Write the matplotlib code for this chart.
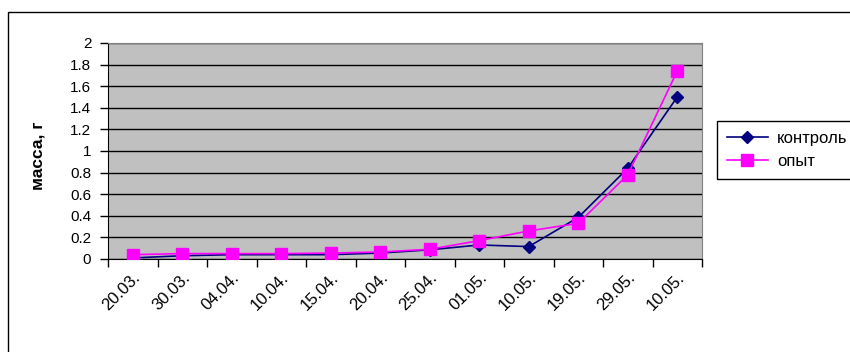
import matplotlib
matplotlib.use("Agg")
import matplotlib.pyplot as plt
from matplotlib.patches import Rectangle

plt.rcParams['font.family'] = ['Liberation Sans', 'DejaVu Sans']

# dates of weighing (category axis)
dates = ["20.03.", "30.03.", "04.04.", "10.04.", "15.04.", "20.04.",
         "25.04.", "01.05.", "10.05.", "19.05.", "29.05.", "10.05."]
# mass, g
kontrol = [0.01, 0.03, 0.04, 0.04, 0.04, 0.055, 0.085, 0.13, 0.115, 0.385, 0.84, 1.50]
opyt = [0.04, 0.05, 0.05, 0.05, 0.055, 0.065, 0.09, 0.17, 0.26, 0.33, 0.78, 1.74]
yticks = [0, 0.2, 0.4, 0.6, 0.8, 1, 1.2, 1.4, 1.6, 1.8, 2]
ytick_labels = ["0", "0.2", "0.4", "0.6", "0.8", "1", "1.2", "1.4", "1.6", "1.8", "2"]

fig = plt.figure(figsize=(8.5, 3.52), dpi=100)
ax = fig.add_axes([108/850, 1 - 259/352, (702 - 108)/850, (259 - 43)/352])

# outer chart frame (only left and top edges fall inside the image)
fig.patches.append(Rectangle((8/850, -0.2), 1.2, 1 - 12/352 + 0.2,
                             transform=fig.transFigure, fill=False,
                             edgecolor='black', linewidth=1.0, zorder=0))

x = list(range(len(dates)))
ax.set_facecolor('#C0C0C0')
ax.plot(x, kontrol, color='#000080', marker='D', markersize=6, linewidth=1.2,
        label='контроль', zorder=3)
ax.plot(x, opyt, color='#FF00FF', marker='s', markersize=8.5, linewidth=1.2,
        label='опыт', zorder=4)

ax.set_xlim(-0.5, len(dates) - 0.5)
ax.set_ylim(0, 2)
ax.set_yticks(yticks)
ax.set_yticklabels(ytick_labels, fontsize=11)
ax.yaxis.grid(True, color='black', linewidth=1.0)
ax.set_axisbelow(True)

# category ticks between points, labels at points
ax.set_xticks([i - 0.5 for i in range(len(dates) + 1)])
ax.set_xticklabels([])
ax.set_xticks(x, minor=True)
ax.set_xticklabels(dates, minor=True, rotation=45, ha='right', va='top',
                   rotation_mode='anchor', fontsize=12)
ax.tick_params(axis='x', which='minor', length=0, pad=8)
ax.tick_params(axis='x', which='major', length=6, width=1, direction='out')
ax.tick_params(axis='y', length=6, width=1, direction='out', pad=6)

ax.spines['left'].set_color('black')
ax.spines['bottom'].set_color('black')
ax.spines['top'].set_color('#808080')
ax.spines['right'].set_color('#808080')

fig.text(38/850, 1 - 156/352, 'масса, г', rotation=90, ha='center', va='center',
         fontsize=12.5, fontweight='bold')

leg = fig.legend(loc='upper left', bbox_to_anchor=(717/850, 1 - 121/352),
                 bbox_transform=fig.transFigure, fontsize=12, frameon=True,
                 fancybox=False, edgecolor='black', framealpha=1,
                 handlelength=2.45, borderpad=0.6, labelspacing=0.45,
                 handletextpad=0.55, borderaxespad=0)
leg.get_frame().set_linewidth(1.0)

fig.savefig('out.png', dpi=100)
